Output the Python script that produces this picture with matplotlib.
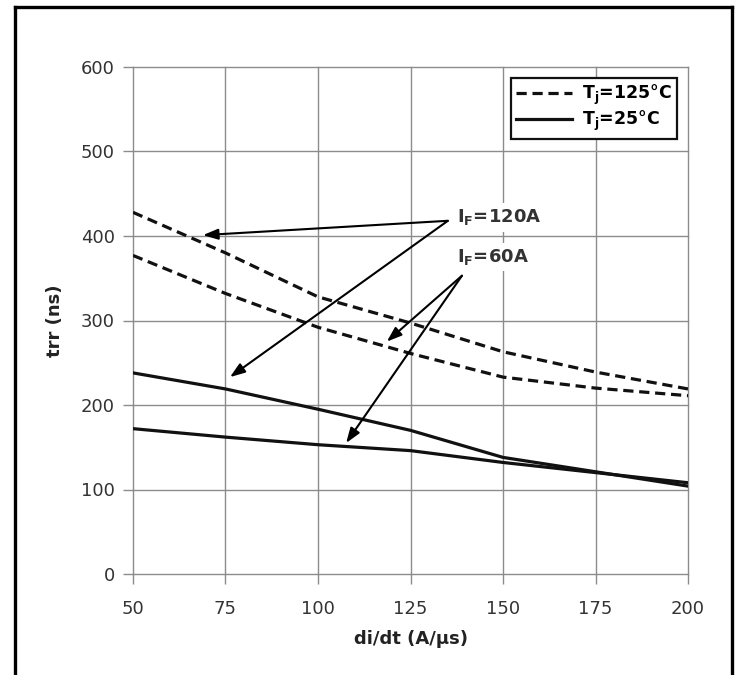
import matplotlib
matplotlib.use("Agg")
import matplotlib.pyplot as plt
from matplotlib.lines import Line2D

didt = [50, 75, 100, 125, 150, 175, 200]
trr_125_120A = [428, 380, 328, 297, 263, 239, 219]
trr_125_60A = [377, 332, 292, 261, 233, 220, 211]
trr_25_120A = [238, 219, 195, 170, 138, 121, 104]
trr_25_60A = [172, 162, 153, 146, 132, 120, 108]

xticks = [50, 75, 100, 125, 150, 175, 200]
yticks = [0, 100, 200, 300, 400, 500, 600]

W, H = 738, 675
fig = plt.figure(figsize=(W / 100, H / 100), dpi=100)
ax = fig.add_axes([133 / W, (H - 574) / H, 555 / W, 507 / H])

lw = 2.3
dash = (3.2, 1.8)
ax.plot(didt, trr_125_120A, color="#111111", lw=lw, dashes=dash, label=r"T$_\mathbf{j}$=125°C")
ax.plot(didt, trr_125_60A, color="#111111", lw=lw, dashes=dash)
ax.plot(didt, trr_25_120A, color="#111111", lw=lw, label=r"T$_\mathbf{j}$=25°C")
ax.plot(didt, trr_25_60A, color="#111111", lw=lw)

ax.set_xlim(50, 200)
ax.set_ylim(0, 600)
ax.set_xticks(xticks)
ax.set_yticks(yticks)
ax.grid(True, color="#8c8c8c", lw=1.0)
for gl in ax.get_xgridlines() + ax.get_ygridlines():
    gl.set_clip_on(False)
ax.set_axisbelow(True)
for s in ax.spines.values():
    s.set_visible(False)
ax.tick_params(direction="out", length=7, width=1.0, color="#8c8c8c",
               labelsize=13, labelcolor="#333333", pad=12)
ax.tick_params(axis="y", pad=6)

ax.set_xlabel("di/dt (A/µs)", fontsize=13, fontweight="bold", color="#222222", labelpad=8)
ax.set_ylabel("trr (ns)", fontsize=13, fontweight="bold", color="#222222", labelpad=12)

leg = ax.legend(loc="upper right", bbox_to_anchor=(677 / W, 1 - 78 / H),
                bbox_transform=fig.transFigure, borderaxespad=0, frameon=True,
                fancybox=False, framealpha=1, prop={"weight": "bold", "size": 12.5},
                handlelength=3.2, handletextpad=0.6, borderpad=0.3, labelspacing=0.1)
leg.get_frame().set_edgecolor("#111111")
leg.get_frame().set_linewidth(1.6)

# annotations
txt_kw = dict(fontsize=13, fontweight="bold", color="#333333", va="center", ha="left",
              bbox=dict(facecolor="white", edgecolor="none", pad=3))
ax.text(137.5, 422, r"I$_\mathbf{F}$=120A", **txt_kw)
ax.text(137.5, 375, r"I$_\mathbf{F}$=60A", **txt_kw)

arw = dict(arrowstyle="-|>,head_length=0.9,head_width=0.32", color="black", lw=1.5,
           shrinkA=0, shrinkB=0)
src120 = (135.1, 418)
src60 = (138.9, 353)
for tip in [(68.9, 401), (76.2, 233)]:
    ax.annotate("", xy=tip, xytext=src120, arrowprops=arw)
for tip in [(118.6, 275), (107.6, 155)]:
    ax.annotate("", xy=tip, xytext=src60, arrowprops=arw)

# figure border
bl, br, bt = 14.5 / W, 731.5 / W, 1 - 6.5 / H
for xs, ys in [([bl, bl], [0, bt]), ([bl, br], [bt, bt]), ([br, br], [bt, 0])]:
    fig.add_artist(Line2D(xs, ys, transform=fig.transFigure, color="black", lw=2.4,
                          solid_capstyle="projecting"))

fig.savefig("out.png", dpi=100)
